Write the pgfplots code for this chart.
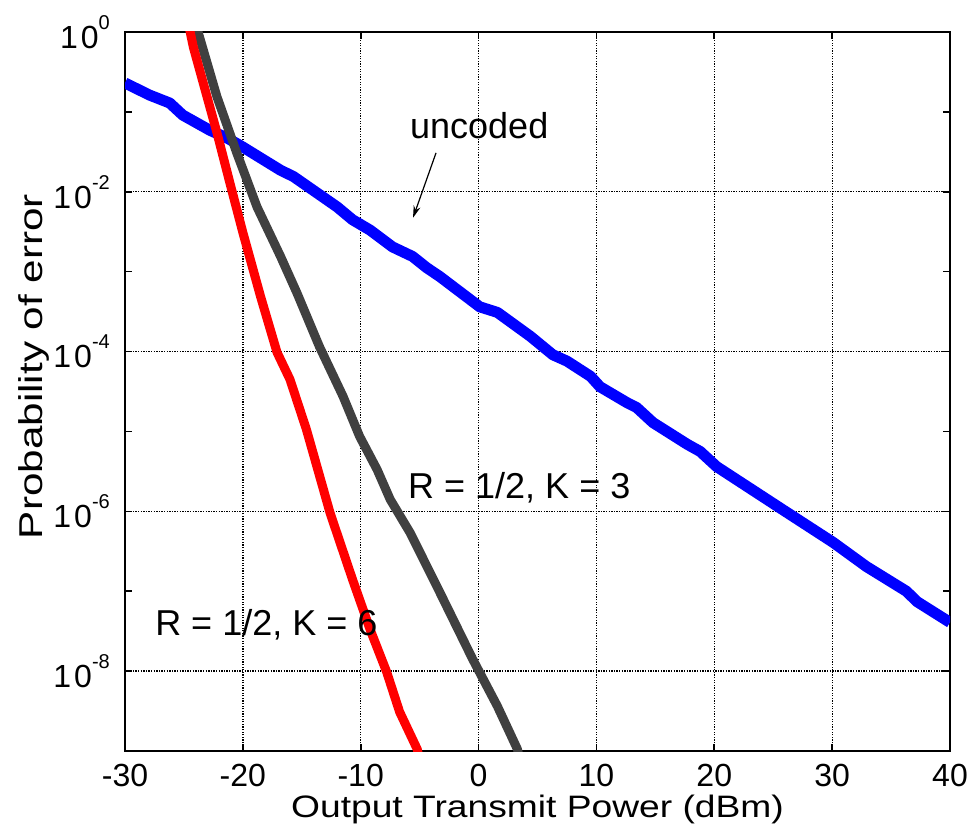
\documentclass[border=0pt]{standalone}
\usepackage{pgfplots}
\pgfplotsset{compat=1.18}
\usepackage{fontspec}
\setmainfont{Liberation Sans}
\usetikzlibrary{arrows.meta}

\definecolor{uncodedblue}{RGB}{0,0,255}
\definecolor{kthree}{RGB}{64,64,64}
\definecolor{ksix}{RGB}{255,0,0}

% power-of-ten tick label: 10 with a raised exponent
\newcommand{\tenpow}[1]{1\kern3pt0\raisebox{19pt}{\fontsize{20}{22}\selectfont #1}}

% Bit error probability versus transmit power (x: dBm, y: probability)
\pgfplotstableread{
x      p
-30.0  2.30e-1
-27.9  1.62e-1
-26.2  1.29e-1
-25.1  9.12e-2
-22.8  5.89e-2
-21.3  4.68e-2
-20.0  3.63e-2
-16.8  1.86e-2
-15.7  1.55e-2
-12.0  6.46e-3
-10.7  4.47e-3
-9.2   3.31e-3
-7.3   2.04e-3
-5.6   1.55e-3
-4.4   1.12e-3
-3.3   8.71e-4
0.1    3.63e-4
1.6    3.09e-4
4.4    1.55e-4
6.3    9.12e-5
7.5    7.59e-5
9.5    4.90e-5
10.3   3.63e-5
12.6   2.29e-5
13.4   2.00e-5
14.8   1.29e-5
17.7   6.92e-6
18.8   5.62e-6
20.2   3.63e-6
25.8   1.05e-6
30.1   4.07e-7
32.9   2.04e-7
36.3   1.00e-7
37.2   7.41e-8
40.0   4.07e-8
}\uncoded

\pgfplotstableread{
x      p
-23.9  1.12e0
-22.2  1.55e-1
-20.5  3.02e-2
-18.8  6.46e-3
-16.8  1.55e-3
-15.4  5.37e-4
-13.5  1.15e-4
-11.5  2.75e-5
-10.1  8.71e-6
-8.6   3.31e-6
-7.5   1.41e-6
-5.8   5.37e-7
-3.3   9.77e-8
-0.5   1.41e-8
1.6    3.63e-9
3.3    1.05e-9
3.4    8.90e-10
}\codedKthree

\pgfplotstableread{
x      p
-24.5  1.05e0
-24.2  6.46e-1
-22.2  5.50e-2
-21.1  1.29e-2
-20.0  3.09e-3
-18.5  4.90e-4
-17.1  9.77e-5
-16.0  4.47e-5
-14.6  1.05e-5
-12.6  9.55e-7
-10.7  1.41e-7
-9.2   3.31e-8
-7.8   9.77e-9
-6.7   3.09e-9
-5.2   1.05e-9
-5.1   8.90e-10
}\codedKsix

\begin{document}
\begin{tikzpicture}
\begin{axis}[
  name=main,
  width=825pt, height=719pt, scale only axis,
  xmin=-30, xmax=40,
  ymode=log, ymin=1e-9, ymax=1,
  xtick={-30,-20,...,40},
  xticklabels={-30,-20,-10,0,10,20,30,40},
  ytick={1e-8,1e-6,1e-4,1e-2,1},
  yticklabels={\tenpow{-8},\tenpow{-6},\tenpow{-4},\tenpow{-2},\tenpow{0}},
  minor ytick={1e-9,1e-7,1e-5,1e-3,1e-1},
  xminorgrids=false, yminorgrids=false,
  xmajorgrids, ymajorgrids,
  grid style={black, line width=1.3pt, dash pattern=on 1.3pt off 1.3pt},
  axis line style={black, line width=2pt},
  tick align=inside,
  major tick length=7pt, minor tick length=7pt,
  every tick/.style={black, line width=1.6pt},
  tick label style={font=\fontsize{32}{38}\selectfont, inner sep=0pt},
  yticklabel style={anchor=east, xshift=-15pt},
  xticklabel style={anchor=north, yshift=-13pt},
  clip=true,
]
\addplot[uncodedblue, line width=11pt, line join=round] table[x=x, y=p] {\uncoded};
\addplot[kthree, line width=9pt, line join=round] table[x=x, y=p] {\codedKthree};
\addplot[ksix, line width=9pt, line join=round] table[x=x, y=p] {\codedKsix};

\node[anchor=base west, inner sep=0pt, font=\fontsize{36}{42}\selectfont] at (axis cs:-5.82,0.046) {uncoded};
\draw[black, line width=1.2pt, -{Stealth[length=12pt,width=7pt]}] (axis cs:-3.61,0.0307) -- (axis cs:-5.56,4.73e-3);
\node[anchor=base west, inner sep=0pt, font=\fontsize{36}{42}\selectfont] at (axis cs:-5.99,1.45e-6) {R = 1/2, K = 3};
\node[anchor=base west, inner sep=0pt, font=\fontsize{36}{42}\selectfont] at (axis cs:-27.45,2.82e-8) {R = 1/2, K = 6};
\end{axis}
% axis titles
\node[anchor=base, inner sep=0pt, font=\fontsize{31}{36}\selectfont, xscale=1.2]
  at ([yshift=-66pt]main.south) {Output Transmit Power (dBm)};
\node[anchor=base, inner sep=0pt, font=\fontsize{33}{40}\selectfont, rotate=90, xscale=1.28]
  at ([xshift=-82pt, yshift=25pt]main.west) {Probability of error};
% page frame
\pgfresetboundingbox
\path ([shift={(-125pt,-83pt)}]main.south west) rectangle ([shift={(24pt,32pt)}]main.north east);
\end{tikzpicture}
\end{document}
